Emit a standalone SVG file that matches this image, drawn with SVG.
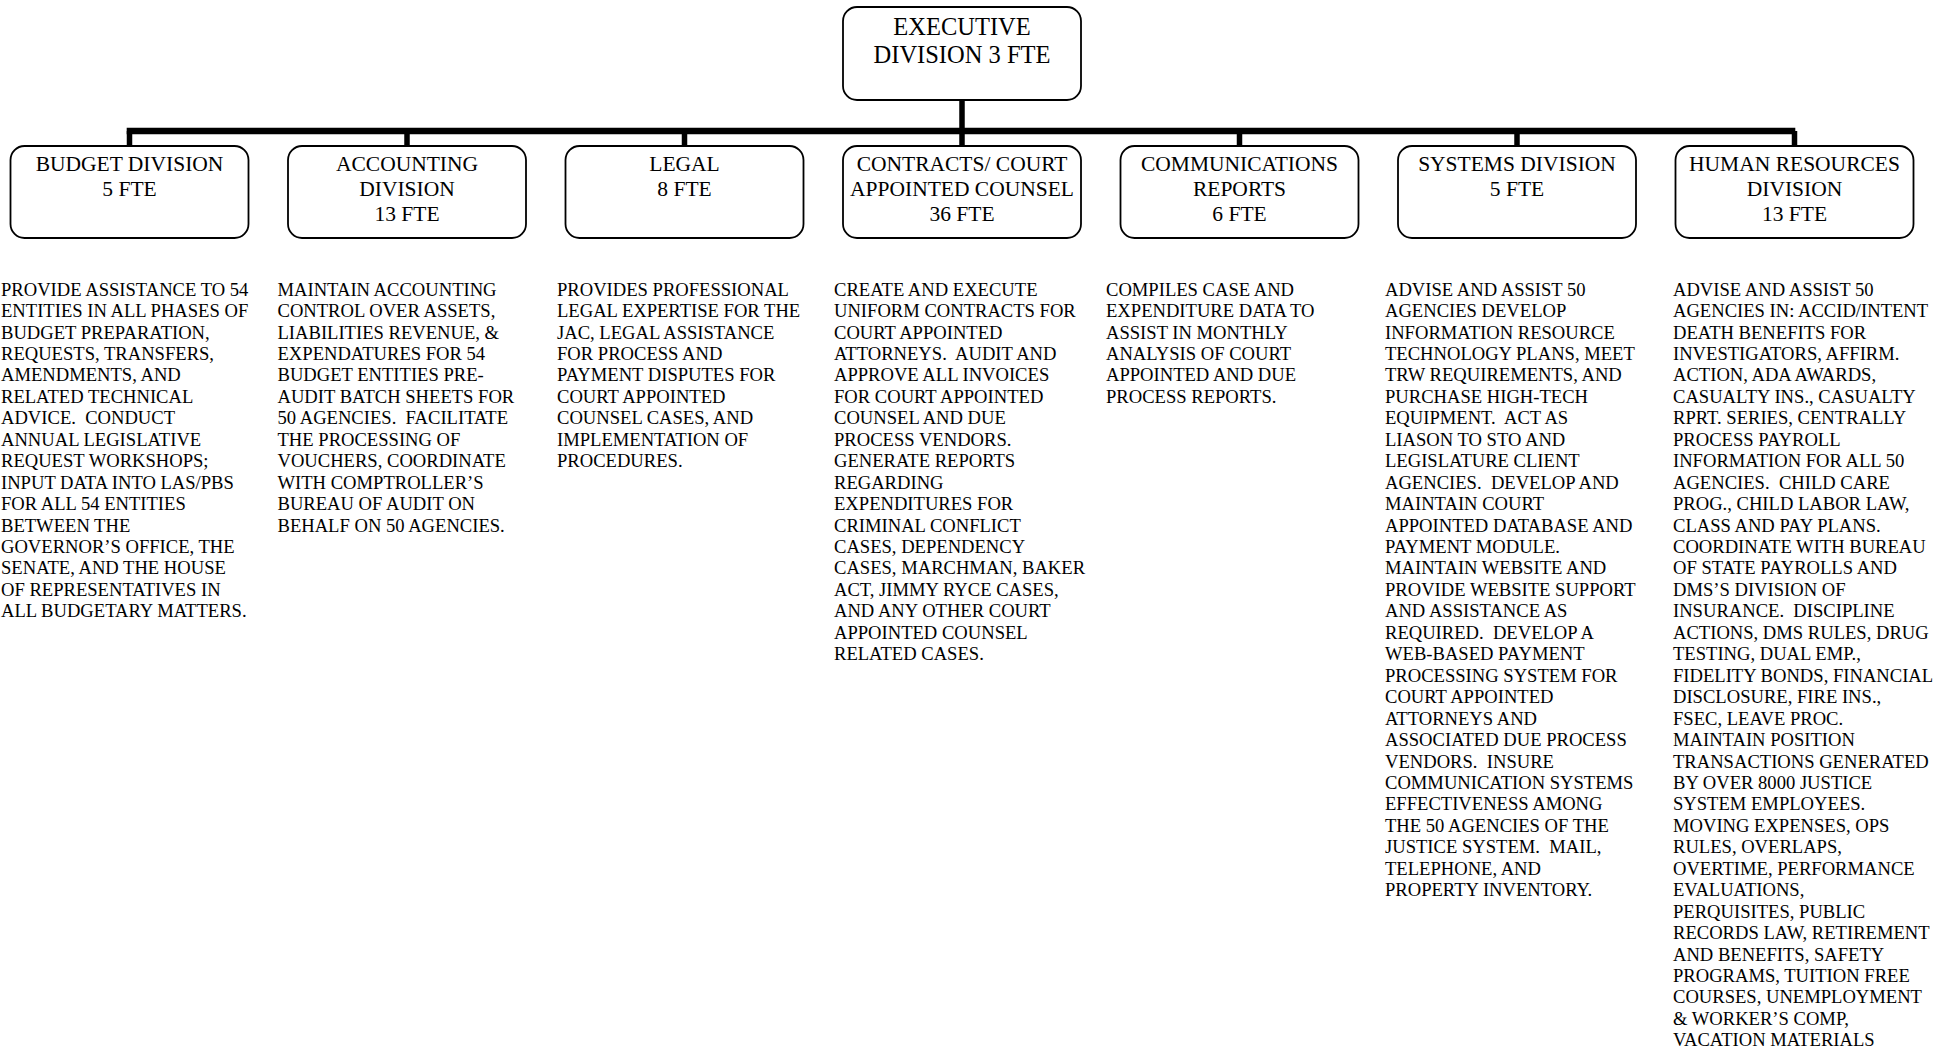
<svg xmlns="http://www.w3.org/2000/svg" width="1956" height="1049" viewBox="0 0 1956 1049">
<style>
.box{fill:#fff;stroke:#000;stroke-width:1.8}
.lbl{font-family:"Liberation Serif","Times New Roman",serif;font-size:21.5px;fill:#000;text-anchor:middle}
.exl{font-family:"Liberation Serif","Times New Roman",serif;font-size:24.5px;fill:#000;text-anchor:middle}
.desc{font-family:"Liberation Serif","Times New Roman",serif;font-size:18.6px;fill:#000}
.bar{stroke:#000;stroke-width:6.5;fill:none}
.drop{stroke:#000;stroke-width:5.5;fill:none}
</style>
<rect width="1956" height="1049" fill="#fff"/>
<g id="connectors">
<line class="drop" x1="962" y1="100" x2="962" y2="131"/>
<line class="bar" x1="126.7" y1="131" x2="1795.3" y2="131"/>
<line class="drop" x1="129.5" y1="131" x2="129.5" y2="146"/>
<line class="drop" x1="407" y1="131" x2="407" y2="146"/>
<line class="drop" x1="684.5" y1="131" x2="684.5" y2="146"/>
<line class="drop" x1="962" y1="131" x2="962" y2="146"/>
<line class="drop" x1="1239.5" y1="131" x2="1239.5" y2="146"/>
<line class="drop" x1="1517" y1="131" x2="1517" y2="146"/>
<line class="drop" x1="1794.5" y1="131" x2="1794.5" y2="146"/>
</g>
<g id="executive">
<rect class="box" x="843" y="7" width="238" height="93" rx="14"/>
<text class="exl" x="962" y="34.5">EXECUTIVE</text>
<text class="exl" x="962" y="62.7">DIVISION 3 FTE</text>
</g>
<g id="budget">
<rect class="box" x="10.5" y="146" width="238" height="92" rx="14"/>
<text class="lbl" x="129.5" y="170.5">BUDGET DIVISION</text>
<text class="lbl" x="129.5" y="195.5">5 FTE</text>
<text class="desc" y="295.6"><tspan x="1">PROVIDE ASSISTANCE TO 54</tspan><tspan x="1" dy="21.45">ENTITIES IN ALL PHASES OF</tspan><tspan x="1" dy="21.45">BUDGET PREPARATION,</tspan><tspan x="1" dy="21.45">REQUESTS, TRANSFERS,</tspan><tspan x="1" dy="21.45">AMENDMENTS, AND</tspan><tspan x="1" dy="21.45">RELATED TECHNICAL</tspan><tspan x="1" dy="21.45">ADVICE.&#160; CONDUCT</tspan><tspan x="1" dy="21.45">ANNUAL LEGISLATIVE</tspan><tspan x="1" dy="21.45">REQUEST WORKSHOPS;</tspan><tspan x="1" dy="21.45">INPUT DATA INTO LAS/PBS</tspan><tspan x="1" dy="21.45">FOR ALL 54 ENTITIES</tspan><tspan x="1" dy="21.45">BETWEEN THE</tspan><tspan x="1" dy="21.45">GOVERNOR’S OFFICE, THE</tspan><tspan x="1" dy="21.45">SENATE, AND THE HOUSE</tspan><tspan x="1" dy="21.45">OF REPRESENTATIVES IN</tspan><tspan x="1" dy="21.45">ALL BUDGETARY MATTERS.</tspan></text>
</g>
<g id="accounting">
<rect class="box" x="288" y="146" width="238" height="92" rx="14"/>
<text class="lbl" x="407" y="170.5">ACCOUNTING</text>
<text class="lbl" x="407" y="195.5">DIVISION</text>
<text class="lbl" x="407" y="220.5">13 FTE</text>
<text class="desc" y="295.6"><tspan x="277.5">MAINTAIN ACCOUNTING</tspan><tspan x="277.5" dy="21.45">CONTROL OVER ASSETS,</tspan><tspan x="277.5" dy="21.45">LIABILITIES REVENUE, &amp;</tspan><tspan x="277.5" dy="21.45">EXPENDATURES FOR 54</tspan><tspan x="277.5" dy="21.45">BUDGET ENTITIES PRE-</tspan><tspan x="277.5" dy="21.45">AUDIT BATCH SHEETS FOR</tspan><tspan x="277.5" dy="21.45">50 AGENCIES.&#160; FACILITATE</tspan><tspan x="277.5" dy="21.45">THE PROCESSING OF</tspan><tspan x="277.5" dy="21.45">VOUCHERS, COORDINATE</tspan><tspan x="277.5" dy="21.45">WITH COMPTROLLER’S</tspan><tspan x="277.5" dy="21.45">BUREAU OF AUDIT ON</tspan><tspan x="277.5" dy="21.45">BEHALF ON 50 AGENCIES.</tspan></text>
</g>
<g id="legal">
<rect class="box" x="565.5" y="146" width="238" height="92" rx="14"/>
<text class="lbl" x="684.5" y="170.5">LEGAL</text>
<text class="lbl" x="684.5" y="195.5">8 FTE</text>
<text class="desc" y="295.6"><tspan x="557">PROVIDES PROFESSIONAL</tspan><tspan x="557" dy="21.45">LEGAL EXPERTISE FOR THE</tspan><tspan x="557" dy="21.45">JAC, LEGAL ASSISTANCE</tspan><tspan x="557" dy="21.45">FOR PROCESS AND</tspan><tspan x="557" dy="21.45">PAYMENT DISPUTES FOR</tspan><tspan x="557" dy="21.45">COURT APPOINTED</tspan><tspan x="557" dy="21.45">COUNSEL CASES, AND</tspan><tspan x="557" dy="21.45">IMPLEMENTATION OF</tspan><tspan x="557" dy="21.45">PROCEDURES.</tspan></text>
</g>
<g id="contracts">
<rect class="box" x="843" y="146" width="238" height="92" rx="14"/>
<text class="lbl" x="962" y="170.5">CONTRACTS/ COURT</text>
<text class="lbl" x="962" y="195.5">APPOINTED COUNSEL</text>
<text class="lbl" x="962" y="220.5">36 FTE</text>
<text class="desc" y="295.6"><tspan x="834">CREATE AND EXECUTE</tspan><tspan x="834" dy="21.45">UNIFORM CONTRACTS FOR</tspan><tspan x="834" dy="21.45">COURT APPOINTED</tspan><tspan x="834" dy="21.45">ATTORNEYS.&#160; AUDIT AND</tspan><tspan x="834" dy="21.45">APPROVE ALL INVOICES</tspan><tspan x="834" dy="21.45">FOR COURT APPOINTED</tspan><tspan x="834" dy="21.45">COUNSEL AND DUE</tspan><tspan x="834" dy="21.45">PROCESS VENDORS.</tspan><tspan x="834" dy="21.45">GENERATE REPORTS</tspan><tspan x="834" dy="21.45">REGARDING</tspan><tspan x="834" dy="21.45">EXPENDITURES FOR</tspan><tspan x="834" dy="21.45">CRIMINAL CONFLICT</tspan><tspan x="834" dy="21.45">CASES, DEPENDENCY</tspan><tspan x="834" dy="21.45">CASES, MARCHMAN, BAKER</tspan><tspan x="834" dy="21.45">ACT, JIMMY RYCE CASES,</tspan><tspan x="834" dy="21.45">AND ANY OTHER COURT</tspan><tspan x="834" dy="21.45">APPOINTED COUNSEL</tspan><tspan x="834" dy="21.45">RELATED CASES.</tspan></text>
</g>
<g id="communications">
<rect class="box" x="1120.5" y="146" width="238" height="92" rx="14"/>
<text class="lbl" x="1239.5" y="170.5">COMMUNICATIONS</text>
<text class="lbl" x="1239.5" y="195.5">REPORTS</text>
<text class="lbl" x="1239.5" y="220.5">6 FTE</text>
<text class="desc" y="295.6"><tspan x="1106">COMPILES CASE AND</tspan><tspan x="1106" dy="21.45">EXPENDITURE DATA TO</tspan><tspan x="1106" dy="21.45">ASSIST IN MONTHLY</tspan><tspan x="1106" dy="21.45">ANALYSIS OF COURT</tspan><tspan x="1106" dy="21.45">APPOINTED AND DUE</tspan><tspan x="1106" dy="21.45">PROCESS REPORTS.</tspan></text>
</g>
<g id="systems">
<rect class="box" x="1398" y="146" width="238" height="92" rx="14"/>
<text class="lbl" x="1517" y="170.5">SYSTEMS DIVISION</text>
<text class="lbl" x="1517" y="195.5">5 FTE</text>
<text class="desc" y="295.6"><tspan x="1385">ADVISE AND ASSIST 50</tspan><tspan x="1385" dy="21.45">AGENCIES DEVELOP</tspan><tspan x="1385" dy="21.45">INFORMATION RESOURCE</tspan><tspan x="1385" dy="21.45">TECHNOLOGY PLANS, MEET</tspan><tspan x="1385" dy="21.45">TRW REQUIREMENTS, AND</tspan><tspan x="1385" dy="21.45">PURCHASE HIGH-TECH</tspan><tspan x="1385" dy="21.45">EQUIPMENT.&#160; ACT AS</tspan><tspan x="1385" dy="21.45">LIASON TO STO AND</tspan><tspan x="1385" dy="21.45">LEGISLATURE CLIENT</tspan><tspan x="1385" dy="21.45">AGENCIES.&#160; DEVELOP AND</tspan><tspan x="1385" dy="21.45">MAINTAIN COURT</tspan><tspan x="1385" dy="21.45">APPOINTED DATABASE AND</tspan><tspan x="1385" dy="21.45">PAYMENT MODULE.</tspan><tspan x="1385" dy="21.45">MAINTAIN WEBSITE AND</tspan><tspan x="1385" dy="21.45">PROVIDE WEBSITE SUPPORT</tspan><tspan x="1385" dy="21.45">AND ASSISTANCE AS</tspan><tspan x="1385" dy="21.45">REQUIRED.&#160; DEVELOP A</tspan><tspan x="1385" dy="21.45">WEB-BASED PAYMENT</tspan><tspan x="1385" dy="21.45">PROCESSING SYSTEM FOR</tspan><tspan x="1385" dy="21.45">COURT APPOINTED</tspan><tspan x="1385" dy="21.45">ATTORNEYS AND</tspan><tspan x="1385" dy="21.45">ASSOCIATED DUE PROCESS</tspan><tspan x="1385" dy="21.45">VENDORS.&#160; INSURE</tspan><tspan x="1385" dy="21.45">COMMUNICATION SYSTEMS</tspan><tspan x="1385" dy="21.45">EFFECTIVENESS AMONG</tspan><tspan x="1385" dy="21.45">THE 50 AGENCIES OF THE</tspan><tspan x="1385" dy="21.45">JUSTICE SYSTEM.&#160; MAIL,</tspan><tspan x="1385" dy="21.45">TELEPHONE, AND</tspan><tspan x="1385" dy="21.45">PROPERTY INVENTORY.</tspan></text>
</g>
<g id="human-resources">
<rect class="box" x="1675.5" y="146" width="238" height="92" rx="14"/>
<text class="lbl" x="1794.5" y="170.5">HUMAN RESOURCES</text>
<text class="lbl" x="1794.5" y="195.5">DIVISION</text>
<text class="lbl" x="1794.5" y="220.5">13 FTE</text>
<text class="desc" y="295.6"><tspan x="1673">ADVISE AND ASSIST 50</tspan><tspan x="1673" dy="21.45">AGENCIES IN: ACCID/INTENT</tspan><tspan x="1673" dy="21.45">DEATH BENEFITS FOR</tspan><tspan x="1673" dy="21.45">INVESTIGATORS, AFFIRM.</tspan><tspan x="1673" dy="21.45">ACTION, ADA AWARDS,</tspan><tspan x="1673" dy="21.45">CASUALTY INS., CASUALTY</tspan><tspan x="1673" dy="21.45">RPRT. SERIES, CENTRALLY</tspan><tspan x="1673" dy="21.45">PROCESS PAYROLL</tspan><tspan x="1673" dy="21.45">INFORMATION FOR ALL 50</tspan><tspan x="1673" dy="21.45">AGENCIES.&#160; CHILD CARE</tspan><tspan x="1673" dy="21.45">PROG., CHILD LABOR LAW,</tspan><tspan x="1673" dy="21.45">CLASS AND PAY PLANS.</tspan><tspan x="1673" dy="21.45">COORDINATE WITH BUREAU</tspan><tspan x="1673" dy="21.45">OF STATE PAYROLLS AND</tspan><tspan x="1673" dy="21.45">DMS’S DIVISION OF</tspan><tspan x="1673" dy="21.45">INSURANCE.&#160; DISCIPLINE</tspan><tspan x="1673" dy="21.45">ACTIONS, DMS RULES, DRUG</tspan><tspan x="1673" dy="21.45">TESTING, DUAL EMP.,</tspan><tspan x="1673" dy="21.45">FIDELITY BONDS, FINANCIAL</tspan><tspan x="1673" dy="21.45">DISCLOSURE, FIRE INS.,</tspan><tspan x="1673" dy="21.45">FSEC, LEAVE PROC.</tspan><tspan x="1673" dy="21.45">MAINTAIN POSITION</tspan><tspan x="1673" dy="21.45">TRANSACTIONS GENERATED</tspan><tspan x="1673" dy="21.45">BY OVER 8000 JUSTICE</tspan><tspan x="1673" dy="21.45">SYSTEM EMPLOYEES.</tspan><tspan x="1673" dy="21.45">MOVING EXPENSES, OPS</tspan><tspan x="1673" dy="21.45">RULES, OVERLAPS,</tspan><tspan x="1673" dy="21.45">OVERTIME, PERFORMANCE</tspan><tspan x="1673" dy="21.45">EVALUATIONS,</tspan><tspan x="1673" dy="21.45">PERQUISITES, PUBLIC</tspan><tspan x="1673" dy="21.45">RECORDS LAW, RETIREMENT</tspan><tspan x="1673" dy="21.45">AND BENEFITS, SAFETY</tspan><tspan x="1673" dy="21.45">PROGRAMS, TUITION FREE</tspan><tspan x="1673" dy="21.45">COURSES, UNEMPLOYMENT</tspan><tspan x="1673" dy="21.45">&amp; WORKER’S COMP,</tspan><tspan x="1673" dy="21.45">VACATION MATERIALS</tspan></text>
</g>
</svg>
